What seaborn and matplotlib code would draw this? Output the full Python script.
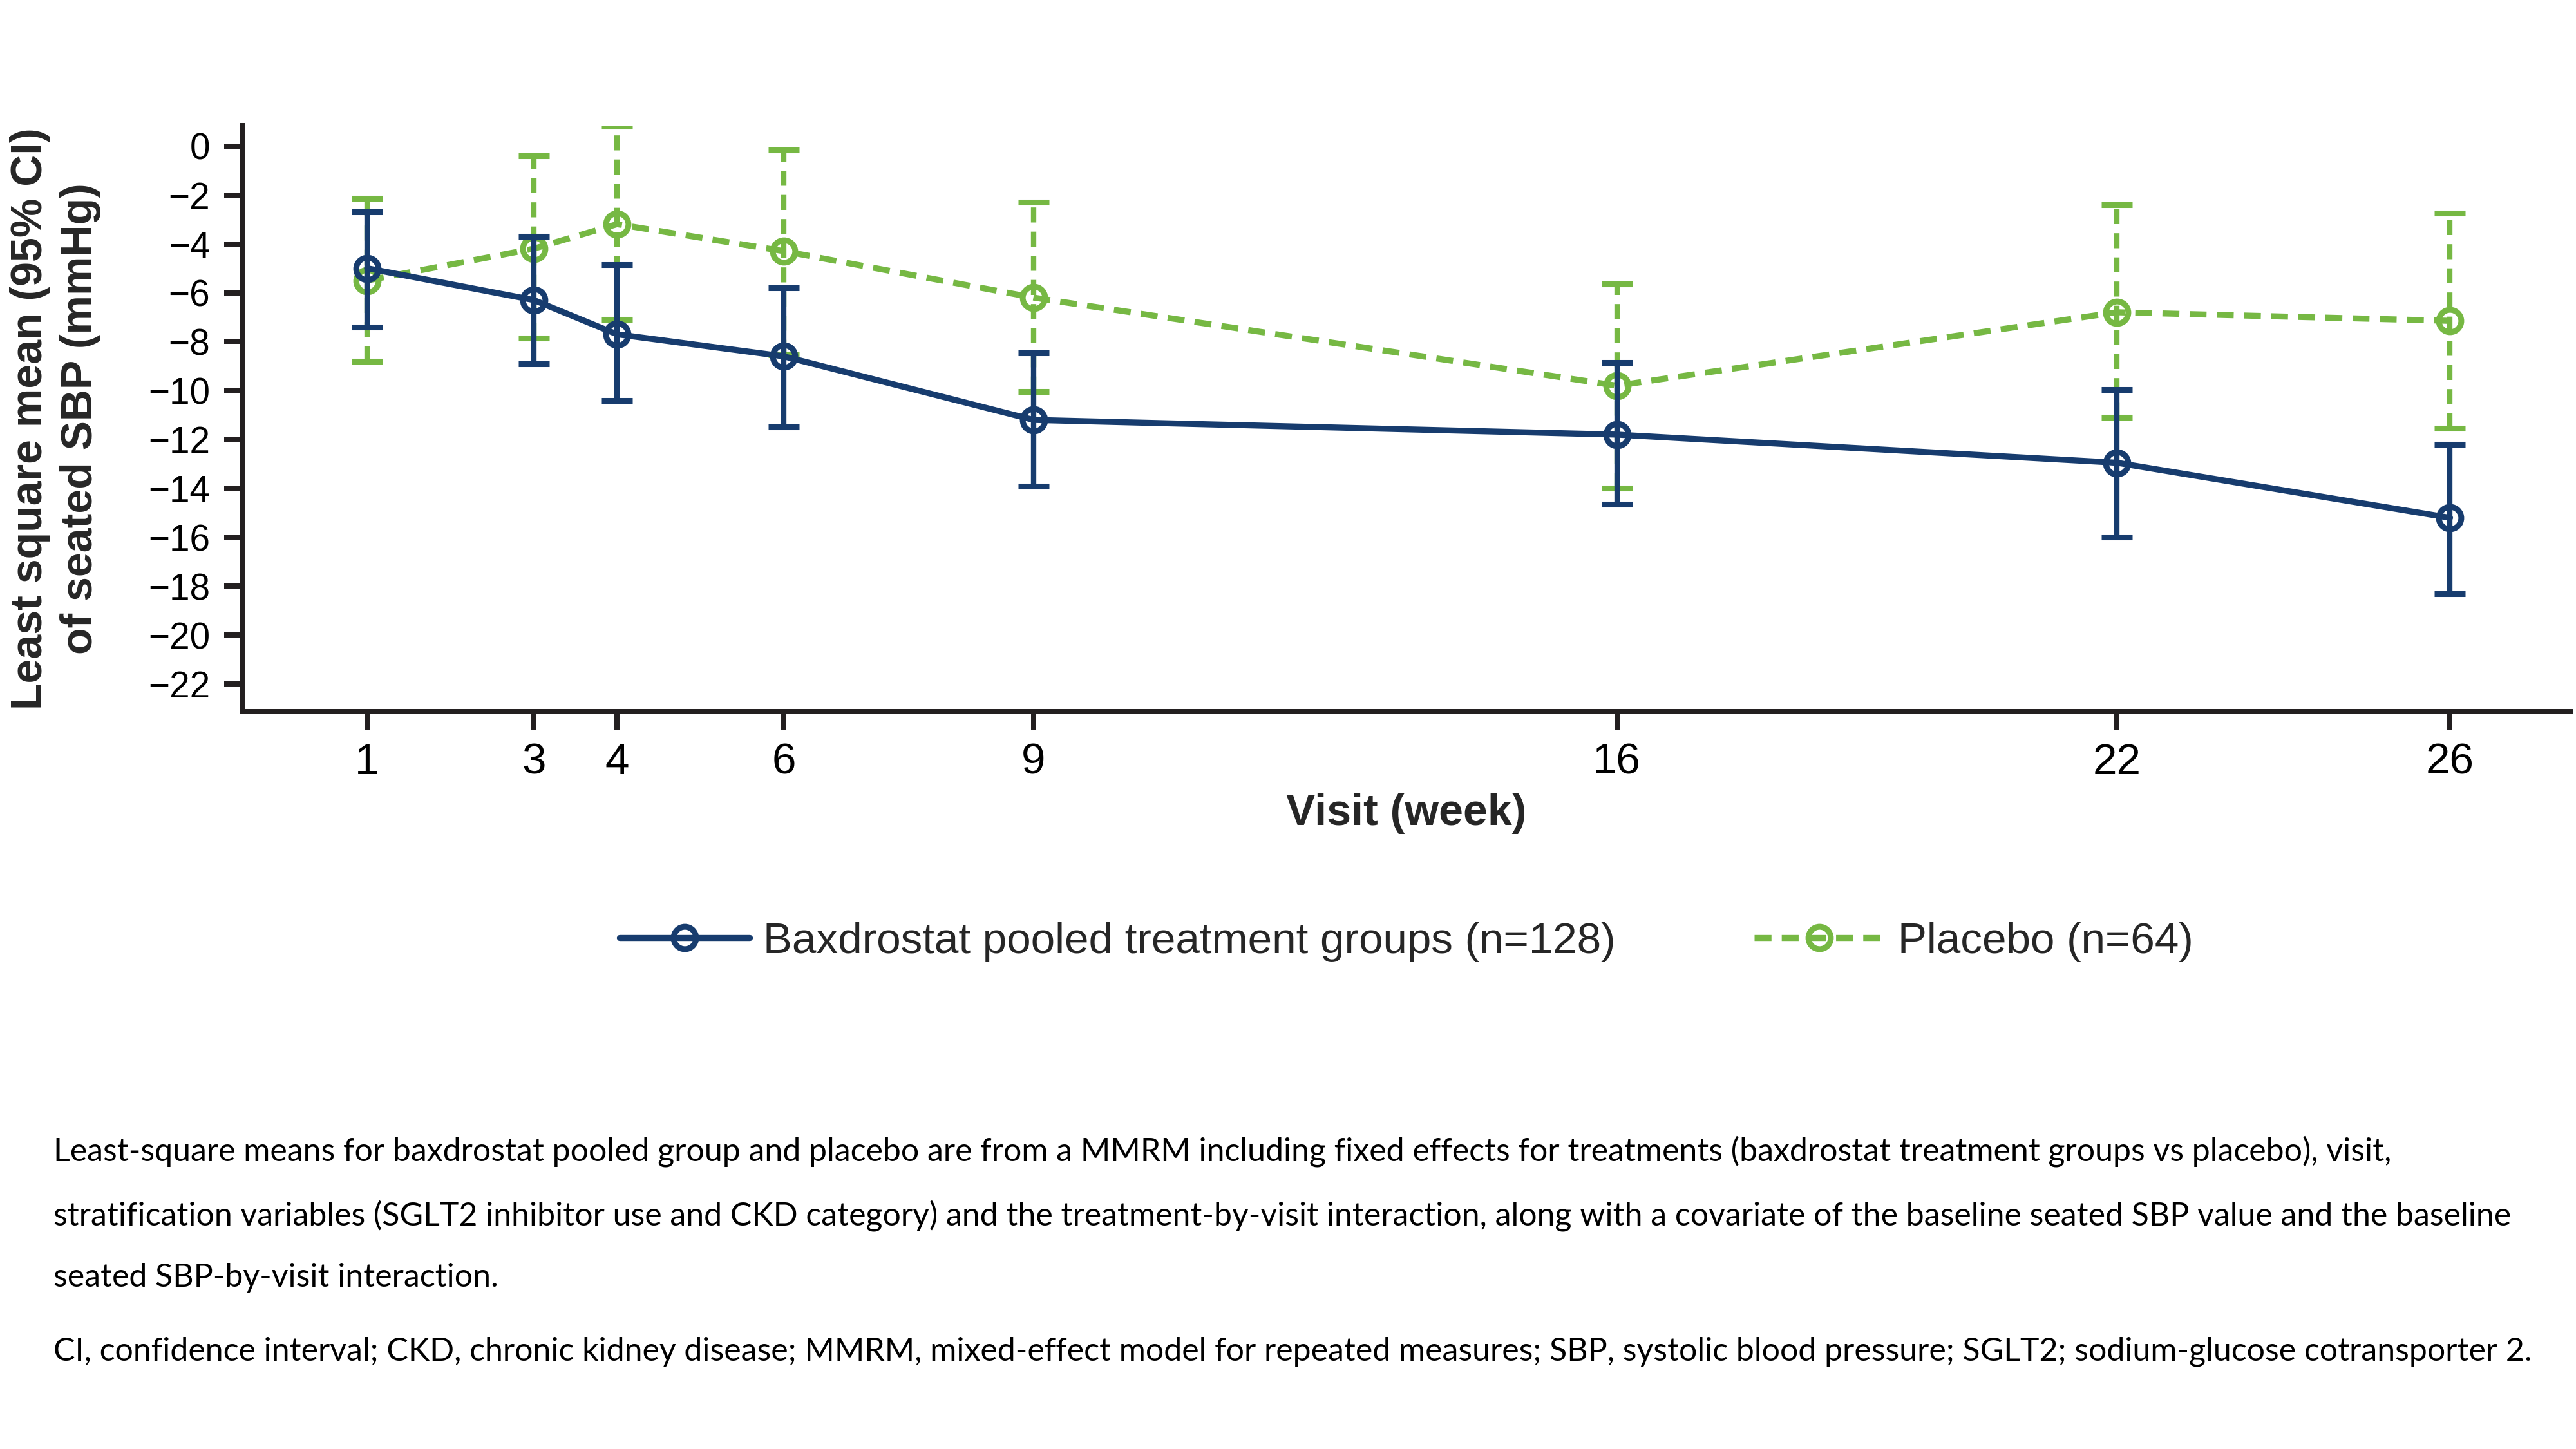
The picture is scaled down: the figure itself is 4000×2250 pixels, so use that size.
import numpy as np
import pandas as pd
import matplotlib
matplotlib.use("Agg")
import matplotlib.pyplot as plt
import seaborn as sns

# ---------------- data ----------------
weeks = [1, 3, 4, 6, 9, 16, 22, 26]

bax_mean = [-5.0, -6.3, -7.7, -8.6, -11.2, -11.8, -12.95, -15.2]
bax_lower = [-7.4, -8.9, -10.4, -11.5, -13.9, -14.65, -16.0, -18.3]
bax_upper = [-2.7, -3.7, -4.85, -5.8, -8.45, -8.85, -9.95, -12.2]

pla_mean = [-5.5, -4.2, -3.2, -4.3, -6.2, -9.8, -6.8, -7.15]
pla_lower = [-8.8, -7.85, -7.1, -8.55, -10.05, -14.0, -11.1, -11.55]
pla_upper = [-2.15, -0.4, 0.8, -0.18, -2.3, -5.65, -2.4, -2.75]

group_labels = ["Baxdrostat pooled treatment groups (n=128)", "Placebo (n=64)"]
x_ticks = weeks
y_ticks = [0, -2, -4, -6, -8, -10, -12, -14, -16, -18, -20, -22]
x_label = "Visit (week)"
y_label = "Least square mean (95% CI)\nof seated SBP (mmHg)"

footnotes = [
    "Least-square means for baxdrostat pooled group and placebo are from a MMRM including fixed effects for treatments (baxdrostat treatment groups vs placebo), visit,",
    "stratification variables (SGLT2 inhibitor use and CKD category) and the treatment-by-visit interaction, along with a covariate of the baseline seated SBP value and the baseline",
    "seated SBP-by-visit interaction.",
    "CI, confidence interval; CKD, chronic kidney disease; MMRM, mixed-effect model for repeated measures; SBP, systolic blood pressure; SGLT2; sodium-glucose cotransporter 2.",
]

# ---------------- style ----------------
sns.set_style("ticks")
plt.rcParams["font.family"] = ["Liberation Sans", "DejaVu Sans"]
plt.rcParams["axes.unicode_minus"] = True

BLUE = "#173C6E"
GREEN = "#76B843"
AXCOL = "#231F20"
W, H = 4000, 2250

fig = plt.figure(figsize=(16, 9), dpi=250)
fig.patch.set_facecolor("white")
ax = fig.add_axes([0.094, 0.5089, 0.904, 0.4046])
ax.set_facecolor("white")

df_b = pd.DataFrame({"week": weeks, "lsm": bax_mean})
df_p = pd.DataFrame({"week": weeks, "lsm": pla_mean})

LW = 2.7
DASH = (2.8, 1.7)

# Placebo (drawn first, underneath)
eb_p = ax.errorbar(weeks, pla_mean,
                   yerr=[np.array(pla_mean) - np.array(pla_lower),
                         np.array(pla_upper) - np.array(pla_mean)],
                   fmt="none", ecolor=GREEN, elinewidth=2.4, capsize=7,
                   capthick=2.6, zorder=2)
eb_p[2][0].set_linestyle((0, DASH))

sns.lineplot(data=df_p, x="week", y="lsm", ax=ax, color=GREEN, lw=LW,
             marker="o", markersize=10, markerfacecolor="none",
             markeredgecolor=GREEN, markeredgewidth=2.6,
             label=group_labels[1], errorbar=None, zorder=3)
line_p = ax.lines[-1]
line_p.set_dashes(DASH)

# Baxdrostat
ax.errorbar(weeks, bax_mean,
            yerr=[np.array(bax_mean) - np.array(bax_lower),
                  np.array(bax_upper) - np.array(bax_mean)],
            fmt="none", ecolor=BLUE, elinewidth=2.4, capsize=7,
            capthick=2.6, zorder=4)
sns.lineplot(data=df_b, x="week", y="lsm", ax=ax, color=BLUE, lw=LW,
             marker="o", markersize=10, markerfacecolor="none",
             markeredgecolor=BLUE, markeredgewidth=2.6,
             label=group_labels[0], errorbar=None, zorder=5)
line_b = ax.lines[-1]

if ax.get_legend() is not None:
    ax.get_legend().remove()

# ---------------- axes ----------------
ax.set_xlim(-0.5, 27.45)
ax.set_ylim(-23.12, 0.84)
ax.set_xticks(x_ticks)
ax.set_xticklabels([str(w) for w in x_ticks])
ax.set_yticks(y_ticks)
sns.despine(ax=ax)
for s in ["left", "bottom"]:
    ax.spines[s].set_linewidth(2.3)
    ax.spines[s].set_color(AXCOL)
ax.tick_params(axis="both", direction="out", length=8, width=2.3, color=AXCOL)
ax.tick_params(axis="y", labelsize=16.3, pad=6.3, labelcolor="black")
ax.tick_params(axis="x", labelsize=19.4, pad=6, labelcolor="black")

ax.set_xlabel(x_label, fontsize=19.6, fontweight="bold", labelpad=4.5)
ax.set_ylabel(y_label, fontsize=19.6, fontweight="bold", linespacing=1.28,
              va="center", ha="center", multialignment="center")
ax.yaxis.set_label_coords(-0.0803, 0.5)

# ---------------- legend ----------------
fig.legend([line_b, line_p], group_labels, loc="center",
           bbox_to_anchor=(0.546, 0.350), ncol=2, frameon=False,
           fontsize=19.4, handlelength=3.0, handletextpad=0.31,
           columnspacing=3.2)

# ---------------- footnotes ----------------
fn_baselines = [1803, 1902, 1998, 2112]
fn_targets = {0: 3648.0, 1: 3813.0, 3: 3817.0}
fn_objs = []
for txt, yb in zip(footnotes, fn_baselines):
    t = fig.text(83 / W, 1 - yb / H, txt, fontsize=14,
                 family=["Lato", "DejaVu Sans"], ha="left", va="baseline",
                 color="black")
    fn_objs.append(t)

fig.canvas.draw()
renderer = fig.canvas.get_renderer()
ratios = [tw / fn_objs[i].get_window_extent(renderer).width
          for i, tw in fn_targets.items()]
fs = 14 * float(np.mean(ratios))
for t in fn_objs:
    t.set_fontsize(fs)

fig.savefig("out.png", dpi=250, facecolor="white")
